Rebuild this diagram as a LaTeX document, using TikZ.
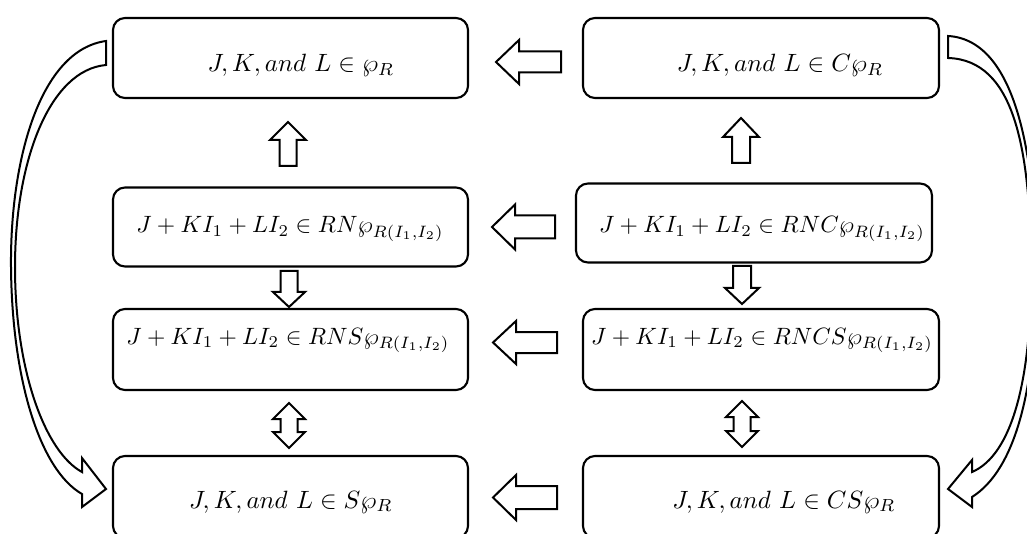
\documentclass[tikz,border=0pt]{standalone}
\usetikzlibrary{calc}
\tikzset{
  box/.style={draw, line width=2.1pt, rounded corners=12pt, minimum width=355pt, minimum height=80pt, inner sep=0pt},
  lbl/.style={anchor=base, inner sep=0pt, scale=2.5, transform shape},
  lblw/.style={anchor=base, inner sep=0pt, scale=2.36, transform shape},
  blk/.style={draw, fill=white, line width=2pt, line join=miter},
}
% #1 tail point, #2 angle, #3 length, #4 shaft half width, #5 head half width, #6 head length
\newcommand\BArr[6]{%
  \begin{scope}[shift={#1},rotate=#2]
    \draw[blk] (0,-#4) -- ({#3-#6},-#4) -- ({#3-#6},-#5) -- (#3,0) -- ({#3-#6},#5) -- ({#3-#6},#4) -- (0,#4) -- cycle;
  \end{scope}}
% double vertical arrow: #1 top tip, #2 length, #3 shaft half, #4 head half, #5 head length
\newcommand\DArr[5]{%
  \begin{scope}[shift={#1},rotate=-90]
    \draw[blk] (0,0) -- (#5,#4) -- (#5,#3) -- ({#2-#5},#3) -- ({#2-#5},#4) -- (#2,0)
      -- ({#2-#5},-#4) -- ({#2-#5},-#3) -- (#5,-#3) -- (#5,-#4) -- cycle;
  \end{scope}}
\begin{document}
\begin{tikzpicture}[x=1pt,y=-1pt]
\useasboundingbox (0,0) rectangle (1027,534);

% boxes
\node[box, minimum height=80pt] (L1) at (290.5,58) {};
\node[box, minimum width=356pt] (R1) at (761,58) {};
\node[box, minimum height=79pt] (L2) at (290.5,227) {};
\node[box, minimum width=356pt, minimum height=79pt] (R2) at (754,223) {};
\node[box, minimum height=81pt] (L3) at (290.5,349.5) {};
\node[box, minimum width=356pt, minimum height=81pt] (R3) at (761,349.5) {};
\node[box, minimum height=82pt] (L4) at (290.5,497) {};
\node[box, minimum width=356pt, minimum height=82pt] (R4) at (761,497) {};

% texts
\node[lbl] (t1) at (301,72) {$J,K,and\ L\in\wp_R$};
\node[lbl] (t2) at (780,72) {$J,K,and\ L\in C\wp_R$};
\node[lblw] (t3) at (290,233) {$J+KI_1+LI_2\in RN\wp_{R(I_1,I_2)}$};
\node[lblw] (t4) at (762,233) {$J+KI_1+LI_2\in RNC\wp_{R(I_1,I_2)}$};
\node[lblw] (t5) at (288,344) {$J+KI_1+LI_2\in RNS\wp_{R(I_1,I_2)}$};
\node[lblw] (t6) at (762,344) {$J+KI_1+LI_2\in RNCS\wp_{R(I_1,I_2)}$};
\node[lbl] (t7) at (291,508) {$J,K,and\ L\in S\wp_R$};
\node[lbl] (t8) at (784,508) {$J,K,and\ L\in CS\wp_R$};

% horizontal block arrows (pointing left)
\BArr{(561,62)}{180}{65}{10.5}{22}{23}
\BArr{(555,227)}{180}{63}{11.5}{22.5}{23}
\BArr{(557,342.5)}{180}{64}{10.5}{21.5}{23}
\BArr{(557,497.5)}{180}{64}{11.5}{22.5}{23}

% vertical block arrows
\BArr{(288,166)}{90}{44}{8.5}{18}{18}
\BArr{(741,163)}{90}{45}{9}{18}{19}
\BArr{(289,271)}{-90}{36}{8.5}{16}{15}
\BArr{(742,266)}{-90}{38}{9}{17}{16}
\DArr{(289,403)}{45}{8.5}{16}{16}
\DArr{(742,401)}{46}{8.5}{16}{16}

% left curved arrow
\draw[blk] (106,41) .. controls (40,50) and (10,160) .. (11,267)
  .. controls (12,380) and (40,470) .. (82,494)
  -- (82,507) -- (106,489) -- (82,458) -- (82,472)
  .. controls (45,452) and (15,370) .. (15,267)
  .. controls (15,160) and (50,70) .. (106,65) -- cycle;

% right curved arrow
\draw[blk] (948,36) .. controls (1020,40) and (1036,170) .. (1036,275)
  .. controls (1036,390) and (1015,470) .. (972,497)
  -- (972,507) -- (948,489) -- (972,460) -- (972,472)
  .. controls (1012,455) and (1031,380) .. (1031,275)
  .. controls (1031,150) and (1015,60) .. (948,58) -- cycle;
\end{tikzpicture}
\end{document}
